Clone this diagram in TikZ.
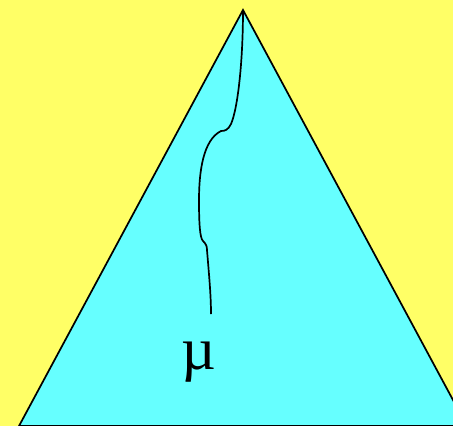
\documentclass[tikz,border=0pt]{standalone}
\usepackage{fontspec}
\usepackage{xcolor}
\usepackage{tikz}
\usetikzlibrary{positioning, calc}
\newfontfamily\greekfont{Liberation Serif}
\definecolor{bgyellow}{HTML}{FFFF66}
\definecolor{cone}{HTML}{66FFFF}

\begin{document}
\begin{tikzpicture}[
        x=1pt, y=-1pt,
        region/.style={draw=black, fill=#1, line width=1.7pt, line join=miter},
        region/.default=cone,
        path/.style={draw=black, line width=1.7pt},
        lbl/.style={font=\greekfont\fontsize{60}{60}\selectfont, inner sep=0pt},
    ]
    % Background
    \fill[bgyellow] (0,0) rectangle (453,426);
    \useasboundingbox (0,0) rectangle (453,426);

    % Triangle (cut at the right edge)
    \begin{scope}
        \clip (0,0) rectangle (453,426);
        \coordinate (apex) at (243,10);
        \coordinate (left) at (19,426);
        \coordinate (right) at (467,426);
        \draw[region] (apex) -- (right) -- (left) -- cycle;
    \end{scope}

    % Label
    \node[lbl] (mu) at (199,362) {µ};
    \coordinate (tail) at (211,314);

    % Path from the apex down to the label
    \draw[path] (apex) .. controls (243,60) and (238,108) .. (231,124)
        .. controls (228,130) and (225,131) .. (221,131)
        .. controls (203,140) and (199,172) .. (199,200)
        .. controls (199,225) and (200,238) .. (203,241)
        .. controls (206,244) and (207,246) .. (207,250)
        .. controls (209,275) and (211,295) .. (tail);
\end{tikzpicture}
\end{document}
